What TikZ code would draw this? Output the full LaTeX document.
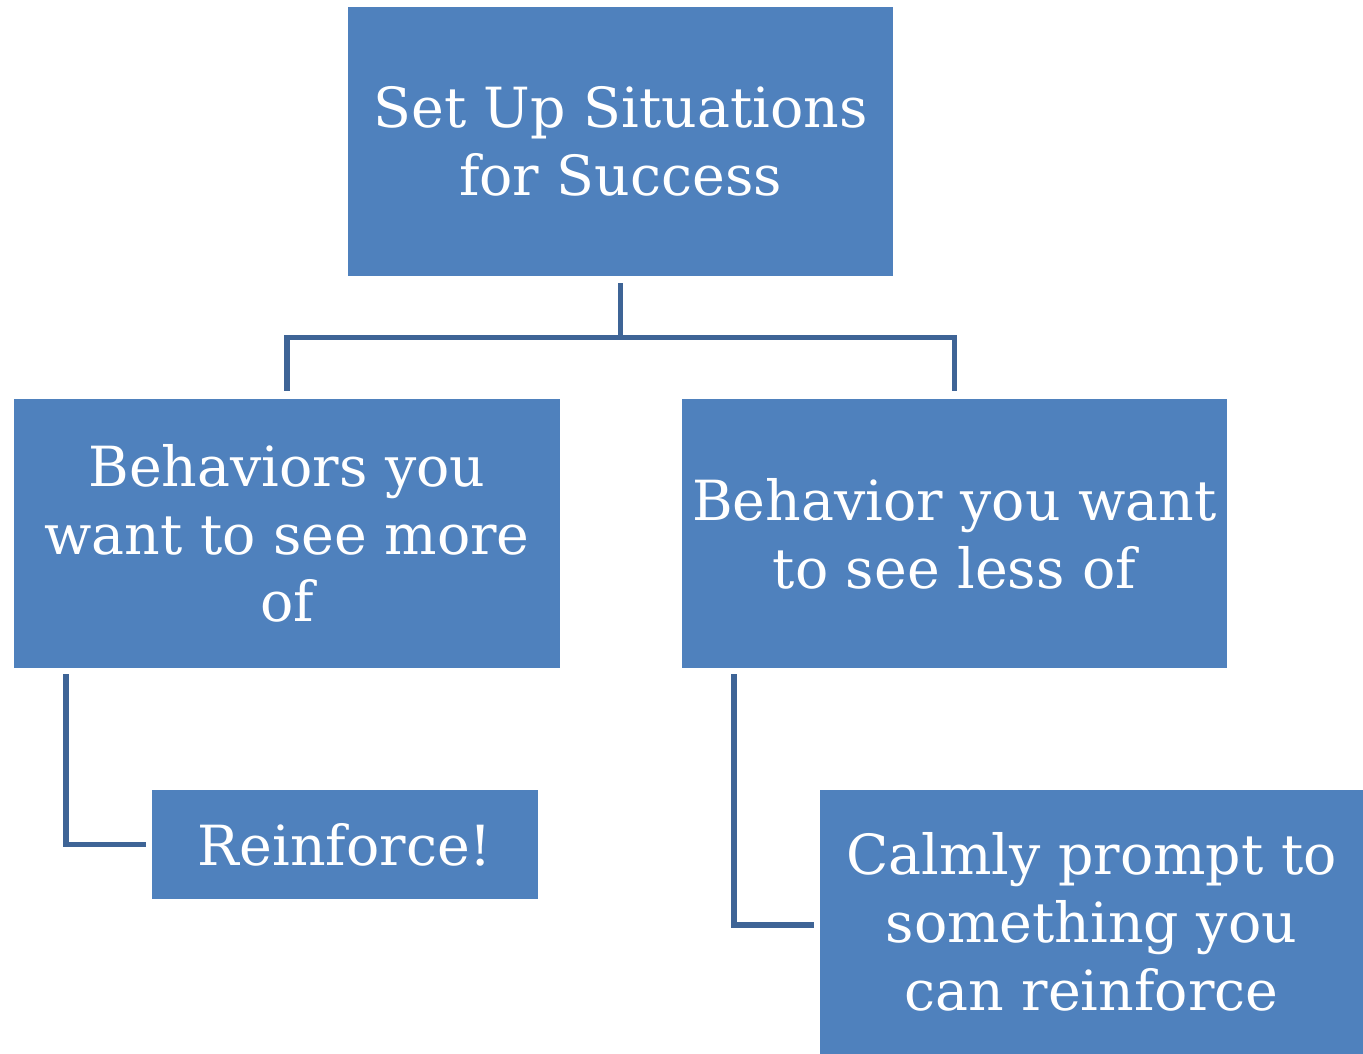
\documentclass[tikz,border=0pt]{standalone}
\usepackage{fontspec}
\setmainfont{DejaVu Serif}
\definecolor{boxblue}{HTML}{4F81BD}
\definecolor{lineblue}{HTML}{3E6496}

\begin{document}
\begin{tikzpicture}[x=0.02cm,y=-0.02cm,
  box/.style={fill=boxblue, text=white, inner sep=0pt, align=center, font=\fontsize{31.5}{38.6}\selectfont},
  conn/.style={draw=lineblue, line width=3.2pt}]
  \useasboundingbox (0,0) rectangle (1363,1054);

  \node[box, minimum width=10.9cm, minimum height=5.38cm] (Top)   at (620.5,141.5) {Set Up Situations\\for Success};
  \node[box, minimum width=10.92cm, minimum height=5.38cm] (More) at (287,533.5) {Behaviors you\\want to see more\\of};
  \node[box, minimum width=10.9cm, minimum height=5.38cm] (Less)  at (954.5,533.5) {Behavior you want\\to see less of};
  \node[box, minimum width=7.72cm, minimum height=2.18cm] (Reinf) at (345,844.5) {Reinforce!};
  \node[box, minimum width=10.86cm, minimum height=5.28cm] (Calm) at (1091.5,922) {Calmly prompt to\\something you\\can reinforce};

  % Connectors
  \draw[conn] ([yshift=-0.14cm]Top.south) -- ([yshift=-1.22cm]Top.south) coordinate (fork);
  \draw[conn] (fork) -| ([yshift=0.16cm]More.north);
  \draw[conn] (fork) -| ([yshift=0.16cm]Less.north);
  \draw[conn] ([xshift=1.04cm,yshift=-0.12cm]More.south west) |- ([xshift=-0.12cm]Reinf.west);
  \draw[conn] ([xshift=1.04cm,yshift=-0.12cm]Less.south west) |- ([xshift=-0.12cm,yshift=-0.06cm]Calm.west);
\end{tikzpicture}
\end{document}
